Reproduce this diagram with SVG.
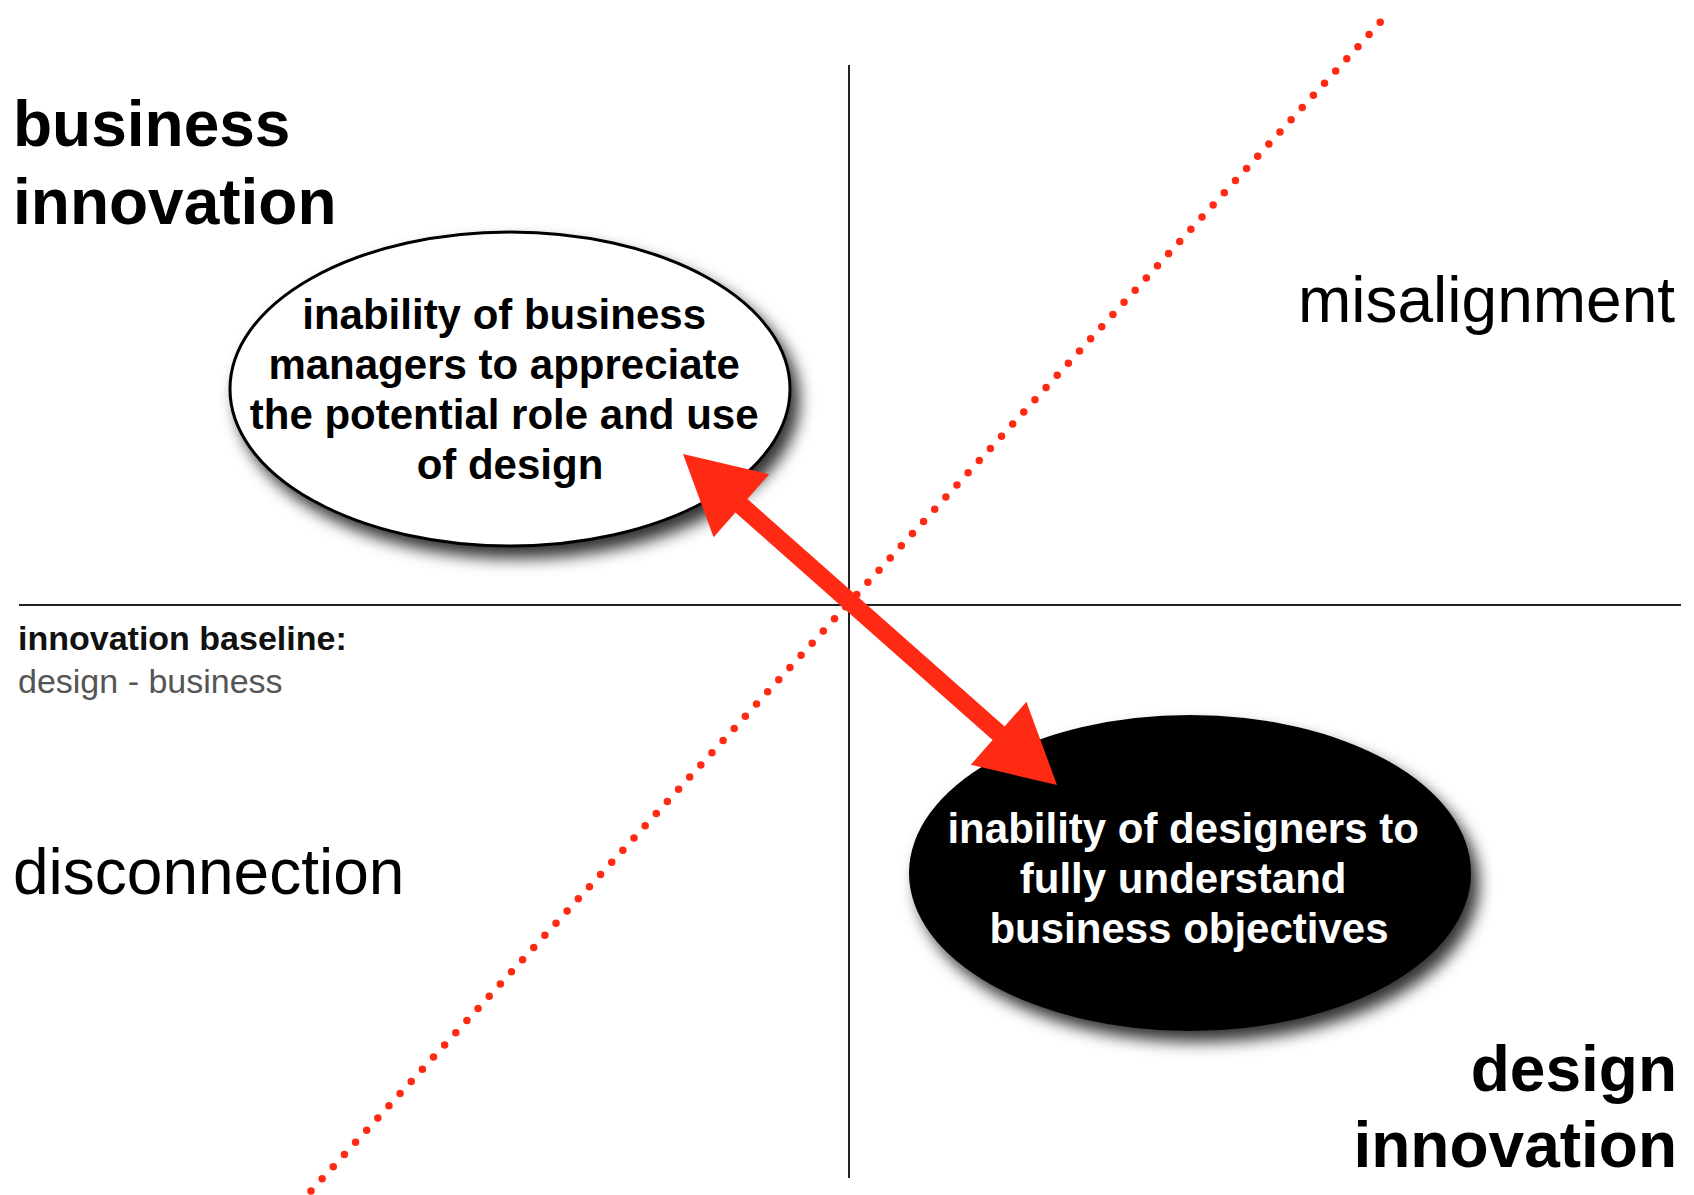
<svg xmlns="http://www.w3.org/2000/svg" width="1694" height="1195" viewBox="0 0 1694 1195">
  <style>
    .big { font-family: "Liberation Sans", Arial, Helvetica, sans-serif; font-size: 64px; fill: #000; }
    .bold { font-weight: bold; }
    .small { font-family: "Liberation Sans", Arial, Helvetica, sans-serif; font-size: 34px; }
    .node { font-family: "Liberation Sans", Arial, Helvetica, sans-serif; font-size: 42px; font-weight: bold; text-anchor: middle; }
    .axis { stroke: #222; stroke-width: 2; fill: none; }
  </style>
  <defs>
    <filter id="shadow" x="-20%" y="-20%" width="150%" height="150%">
      <feDropShadow dx="8" dy="11" stdDeviation="8" flood-color="#000" flood-opacity="0.8"/>
    </filter>
  </defs>
  <rect width="1694" height="1195" fill="#fff"/>

  <g id="axes">
    <line class="axis" x1="19" y1="605" x2="1681" y2="605" stroke="#444"/>
    <line class="axis" x1="849" y1="65" x2="849" y2="1178"/>
  </g>

  <g id="labels">
    <text class="big bold" x="13" y="146">business</text>
    <text class="big bold" x="13" y="224">innovation</text>
    <text class="big" x="1675" y="322" text-anchor="end">misalignment</text>
    <text class="big" x="13" y="894">disconnection</text>
    <text class="big bold" x="1677" y="1091" text-anchor="end">design</text>
    <text class="big bold" x="1677" y="1167" text-anchor="end">innovation</text>
    <text class="small bold" x="18" y="650" fill="#111">innovation baseline:</text>
    <text class="small" x="18" y="693" fill="#555">design - business</text>
  </g>

  <g id="node-business">
    <ellipse cx="510" cy="389" rx="280" ry="157" fill="#fff" stroke="#000" stroke-width="3" filter="url(#shadow)"/>
    <text class="node" x="510" fill="#000">
      <tspan x="510" y="329">inability of business</tspan>
      <tspan x="510" y="379">managers to appreciate</tspan>
      <tspan x="510" y="429">the potential role and use</tspan>
      <tspan x="510" y="479">of design</tspan>
    </text>
  </g>

  <g id="node-design">
    <ellipse cx="1190" cy="873" rx="281" ry="158" fill="#000" filter="url(#shadow)"/>
    <text class="node" x="1189" fill="#fff">
      <tspan x="1189" y="843">inability of designers to</tspan>
      <tspan x="1189" y="893">fully understand</tspan>
      <tspan x="1189" y="943">business objectives</tspan>
    </text>
  </g>

  <g id="connectors">
    <line x1="311" y1="1191" x2="1386" y2="16" stroke="#ff2a14" stroke-width="7.5" stroke-linecap="round" stroke-dasharray="0 16.5"/>
    <polygon fill="#ff2a14" points="683,454 769.2,474.2 747.4,499 1004.6,726.6 1026.4,701.8 1057,785 970.8,764.8 992.6,740 735.4,512.4 713.6,537.2"/>
  </g>
</svg>
